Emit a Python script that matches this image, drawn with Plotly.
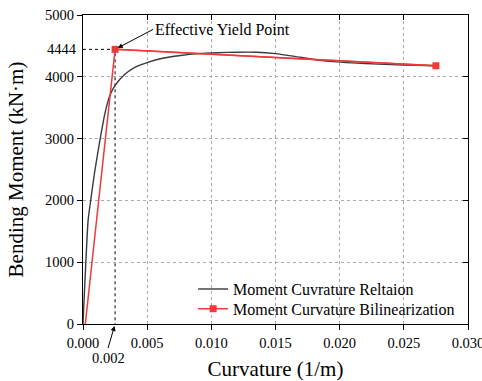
import plotly.graph_objects as go

# Moment–curvature response (curvature in 1/m, moment in kN·m)
curvature = [0.0, 0.0004, 0.0006, 0.0009, 0.0013, 0.0017, 0.0021, 0.0025,
             0.0032, 0.0040, 0.0050, 0.0062, 0.0076, 0.0090, 0.0105, 0.0120,
             0.0135, 0.0150, 0.0165, 0.0180, 0.0195, 0.0210, 0.0230, 0.0250,
             0.0275]
moment = [0, 1680, 2000, 2450, 2950, 3400, 3700, 3860,
          4030, 4150, 4230, 4300, 4345, 4375, 4390, 4398,
          4398, 4375, 4330, 4280, 4245, 4225, 4205, 4192,
          4178]

# Bilinear idealisation
bilin_curvature = [0.00018, 0.0025, 0.0275]
bilin_moment = [0, 4444, 4178]
YIELD_K = bilin_curvature[1]
YIELD_M = bilin_moment[1]

x_ticks = [0.0, 0.005, 0.010, 0.015, 0.020, 0.025, 0.030]
x_ticktext = ["0.000", "0.005", "0.010", "0.015", "0.020", "0.025", "0.030"]
y_ticks = [0, 1000, 2000, 3000, 4000, 5000]

FONT = "Liberation Serif, Times New Roman, serif"
RED = "#f03a3a"
X_RANGE = [0, 0.0300001]
Y_RANGE = [0, 5000.01]

fig = go.Figure()

# yield guide lines
fig.add_trace(go.Scatter(
    x=[0, YIELD_K, YIELD_K], y=[YIELD_M, YIELD_M, 0], mode="lines",
    line=dict(color="black", width=1, dash="dot"), showlegend=False,
    hoverinfo="skip"))

fig.add_trace(go.Scatter(
    x=curvature, y=moment, mode="lines", name="Moment Cuvrature Reltaion",
    line=dict(color="#3a3a3a", width=1.4, shape="spline", smoothing=0.5),
    legend="legend"))

fig.add_trace(go.Scatter(
    x=bilin_curvature, y=bilin_moment, mode="lines",
    line=dict(color=RED, width=1.5), showlegend=False))
fig.add_trace(go.Scatter(
    x=bilin_curvature[1:], y=bilin_moment[1:], mode="lines+markers",
    name="Moment Curvature Bilinearization",
    line=dict(color=RED, width=1.5),
    marker=dict(symbol="square", size=7, color=RED),
    legend="legend2"))

# mirror axes carrying inward ticks on top and right
fig.add_trace(go.Scatter(x=[None], y=[None], xaxis="x2", yaxis="y2",
                         showlegend=False))

legend_style = dict(xanchor="left", yanchor="middle", x=0.286,
                    bgcolor="rgba(0,0,0,0)", font=dict(size=16),
                    itemwidth=30)

fig.update_layout(
    width=482, height=381,
    margin=dict(l=83, r=14, t=15, b=57),
    paper_bgcolor="white", plot_bgcolor="white",
    font=dict(family=FONT, size=14.5, color="black"),
    xaxis=dict(range=X_RANGE, tickvals=x_ticks, ticktext=x_ticktext,
               showline=True, linecolor="black", linewidth=1.2,
               ticks="outside", ticklen=5, tickcolor="black",
               showgrid=True, gridcolor="#aaaaaa", griddash="dot",
               gridwidth=1, zeroline=False, ticklabeloverflow="allow",
               automargin=False,
               title=dict(text="Curvature (1/m)", font=dict(size=21),
                          standoff=12),
               tickfont=dict(size=14.5)),
    yaxis=dict(range=Y_RANGE, tickvals=y_ticks,
               showline=True, linecolor="black", linewidth=1.2,
               ticks="outside", ticklen=5, tickcolor="black",
               showgrid=True, gridcolor="#aaaaaa", griddash="dot",
               gridwidth=1, zeroline=False, automargin=False,
               title=dict(text="Bending Moment (kN·m)", font=dict(size=21),
                          standoff=15),
               tickfont=dict(size=14.5)),
    xaxis2=dict(range=X_RANGE, tickvals=x_ticks, overlaying="x",
                side="top", showticklabels=False, showline=True,
                linecolor="black", linewidth=1.2, ticks="inside", ticklen=5,
                tickcolor="black", showgrid=False, zeroline=False,
                automargin=False),
    yaxis2=dict(range=Y_RANGE, tickvals=y_ticks, overlaying="y",
                side="right", showticklabels=False, showline=True,
                linecolor="black", linewidth=1.2, ticks="inside", ticklen=5,
                tickcolor="black", showgrid=False, zeroline=False,
                automargin=False),
    legend=dict(y=0.113, **legend_style),
    legend2=dict(y=0.049, **legend_style),
    showlegend=True,
)

# yield moment value on the y axis
fig.add_annotation(x=0, xref="paper", y=YIELD_M, yref="y",
                   text=f"{YIELD_M}", showarrow=False, xanchor="right",
                   xshift=-4, font=dict(size=14.5))

fig.add_annotation(x=YIELD_K, y=YIELD_M, text="Effective Yield Point",
                   showarrow=True, arrowhead=2, arrowsize=1, arrowwidth=1,
                   arrowcolor="black", ax=38, ay=-20, xanchor="left",
                   standoff=3, font=dict(size=16))

fig.add_annotation(x=YIELD_K, y=0, text="0.002",
                   showarrow=True, arrowhead=2, arrowsize=1, arrowwidth=1,
                   arrowcolor="black", ax=-7, ay=24, yanchor="top",
                   standoff=2, font=dict(size=14.5))

fig.write_html("out.html")
